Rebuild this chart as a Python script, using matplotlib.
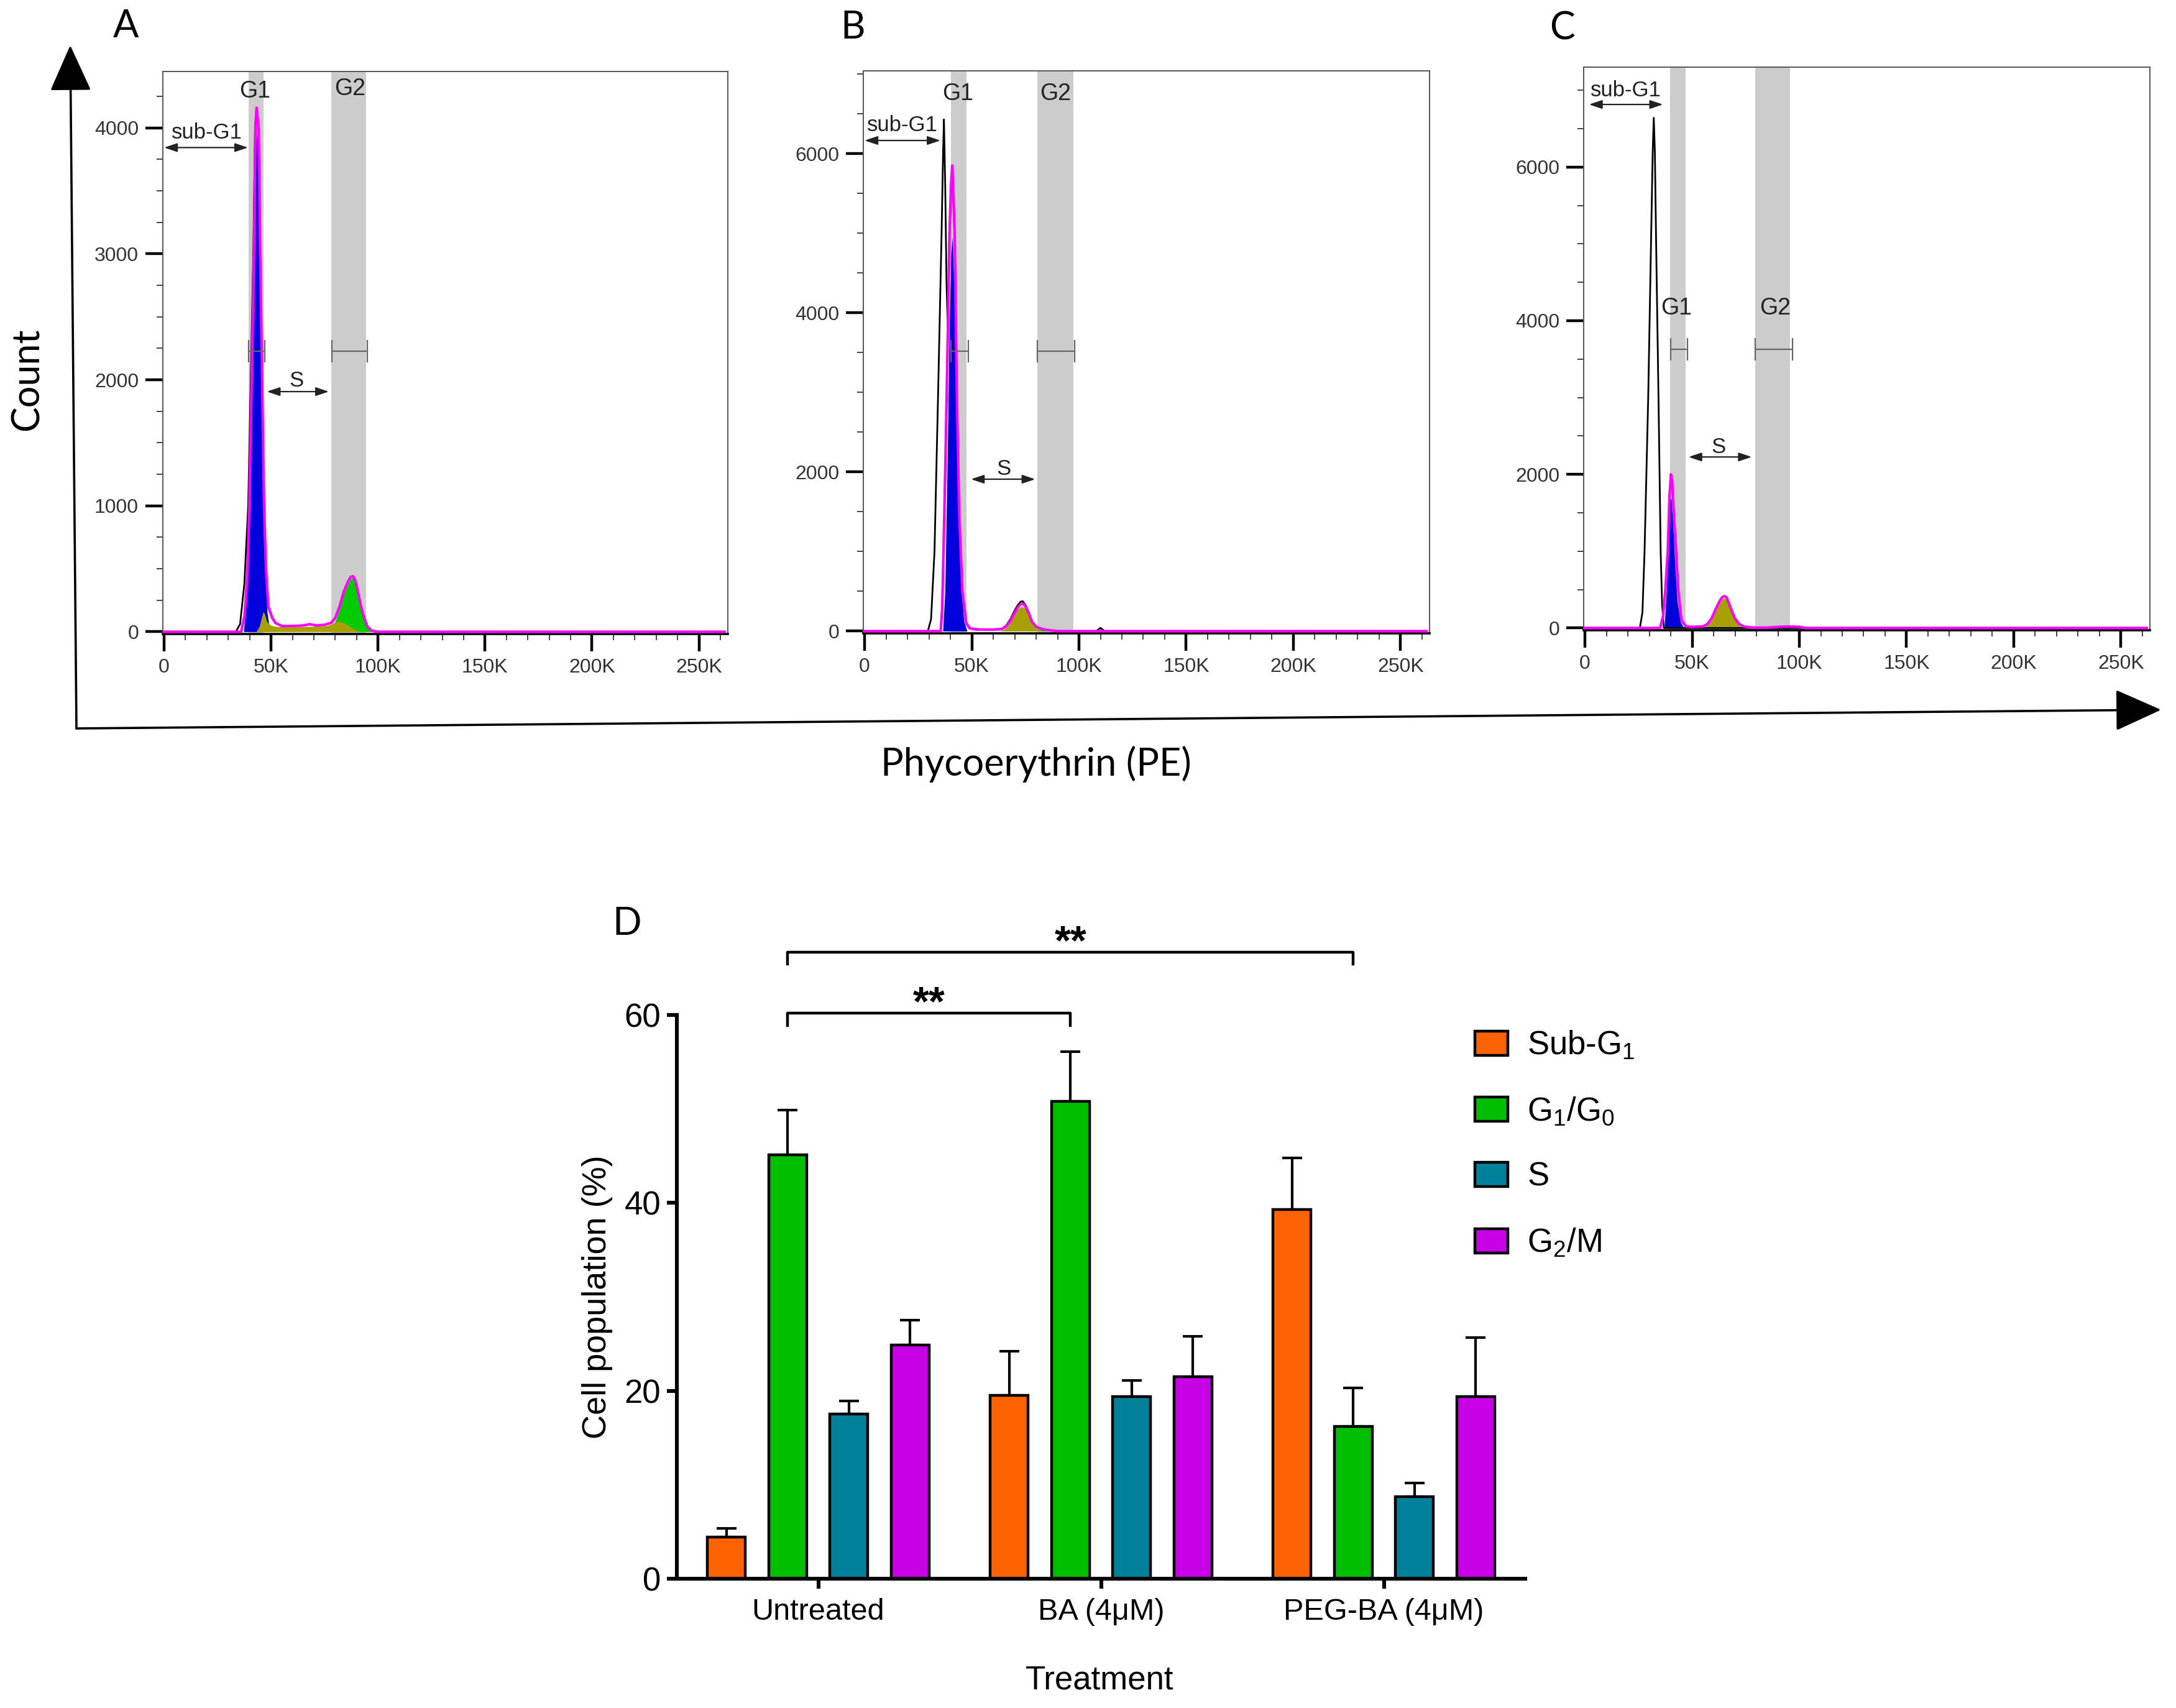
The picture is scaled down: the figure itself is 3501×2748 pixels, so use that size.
import numpy as np
import matplotlib
matplotlib.use('Agg')
import matplotlib.pyplot as plt
from matplotlib.patches import FancyArrowPatch
from matplotlib.ticker import MultipleLocator, FixedLocator

W, H, DPI = 3501, 2748, 200
plt.rcParams['font.family'] = ['Liberation Sans', 'DejaVu Sans']
plt.rcParams['mathtext.fontset'] = 'custom'
plt.rcParams['mathtext.rm'] = 'Liberation Sans'
plt.rcParams['mathtext.it'] = 'Liberation Sans:italic'
plt.rcParams['mathtext.bf'] = 'Liberation Sans:bold'

# ---------------- Panel D data ----------------
treatments = ['Untreated', 'BA (4μM)', 'PEG-BA (4μM)']
phase_labels = ['Sub-G$_1$', 'G$_1$/G$_0$', 'S', 'G$_2$/M']
phase_colors = ['#FF6200', '#00BF00', '#00809A', '#C800E6']
sub_g1 = [4.4, 19.5, 39.3]
sub_g1_sd = [0.95, 4.7, 5.5]
g1_g0 = [45.1, 50.8, 16.2]
g1_g0_sd = [4.8, 5.3, 4.1]
s_phase = [17.5, 19.4, 8.75]
s_phase_sd = [1.4, 1.7, 1.45]
g2_m = [24.9, 21.5, 19.4]
g2_m_sd = [2.6, 4.3, 6.3]
significance = [(0, 1, '**'), (0, 2, '**')]   # G1/G0 comparisons

# ---------------- Histogram data (x in K PE units, y = count) ----------------
x_tick_vals = [0, 50, 100, 150, 200, 250]
x_tick_labels = ['0', '50K', '100K', '150K', '200K', '250K']

# Panel A (untreated)
A_raw_x = [0, 33.5, 35.5, 37.5, 39.3, 40.5, 41.7, 42.5, 43.2, 44.2, 44.9, 45.8, 46.7, 47.6, 48.7, 50.5,
           52, 55, 60, 65, 68, 71, 75, 78, 80, 82, 84, 86, 87.2, 88.3, 89.5, 90.8, 92, 93.5, 95, 97, 100, 262]
A_raw_y = [0, 0, 60, 380, 1000, 2000, 3000, 4000, 4160, 4000, 3000, 2000, 1000, 500, 200, 110,
           70, 45, 45, 50, 60, 50, 55, 70, 110, 200, 320, 400, 435, 440, 400, 300, 200, 110, 40, 8, 0, 0]
A_tot_x = [0, 36, 37.6, 38.9, 39.8, 40.9, 42.0, 42.7, 43.2, 44.2, 44.9, 45.8, 46.7, 47.6, 48.7, 50.5,
           52, 55, 60, 65, 68, 71, 75, 78, 80, 82, 84, 86, 87.2, 88.3, 89.5, 90.8, 92, 93.5, 95, 97, 100, 262]
A_tot_y = [0, 0, 130, 450, 1000, 2000, 3000, 4000, 4160, 4000, 3000, 2000, 1000, 500, 200, 110,
           70, 45, 45, 50, 60, 50, 55, 70, 110, 200, 320, 400, 435, 440, 400, 300, 200, 110, 40, 8, 0, 0]
A_blue_x = [37.2, 38.6, 39.9, 41.0, 42.1, 42.8, 43.3, 44.1, 44.8, 45.7, 46.5, 47.3, 48.2, 49.5]
A_blue_y = [0, 350, 950, 1950, 2950, 3850, 3950, 3850, 2900, 1900, 950, 450, 150, 0]
A_green_x = [78, 80, 82, 84, 86, 87.2, 88.3, 89.5, 90.8, 92, 93.5, 95, 97]
A_green_y = [0, 80, 180, 300, 380, 420, 425, 390, 290, 190, 100, 30, 0]
A_olive_x = [43, 44.5, 45.5, 46.3, 47, 48, 50, 53, 60, 70, 76, 79, 81.5, 84, 86.5, 89, 92]
A_olive_y = [0, 40, 110, 160, 140, 80, 50, 40, 40, 42, 48, 65, 85, 70, 45, 15, 0]
A_g1_band, A_g2_band = [39.4, 46.5], [78.0, 94.5]
A_g1_gate, A_g2_gate, A_gate_y = [39.4, 47.0], [78.5, 95.0], 2227
A_sub_span, A_sub_y = [0, 39.2], 3843
A_s_span, A_s_y = [48.0, 77.0], 1906

# Panel B (BA)
B_raw_x = [0, 29.5, 31.0, 32.6, 34.3, 35.9, 36.6, 37.0, 37.6, 38.2, 38.8, 39.6, 40.3, 40.9, 41.4, 42.0,
           43.0, 44.1, 45.6, 47.4, 49, 55, 64, 66, 68, 70, 71.5, 72.8, 73.8, 75, 76.5, 78, 80, 83, 86,
           90, 108, 110, 112, 262]
B_raw_y = [0, 0, 150, 1000, 3000, 5000, 6000, 6430, 5600, 4400, 3800, 4900, 5550, 5800, 5450, 4950,
           2950, 1450, 480, 100, 35, 20, 28, 70, 150, 260, 330, 370, 375, 330, 240, 120, 55, 25, 12,
           0, 0, 40, 0, 0]
B_tot_x = [0, 35.5, 36.2, 36.8, 37.6, 38.3, 39.0, 39.6, 40.3, 40.9, 41.4, 42.0, 42.5, 43.0, 44.1, 45.6,
           47.4, 49, 52, 60, 64, 66, 68, 70, 71.5, 72.8, 73.8, 75, 76.5, 78, 80, 83, 86, 90, 262]
B_tot_y = [0, 0, 300, 1000, 2000, 3000, 4000, 5000, 5600, 5850, 5500, 5000, 4000, 3000, 1500, 500,
           100, 35, 20, 18, 25, 60, 130, 230, 300, 340, 345, 310, 230, 120, 55, 25, 12, 0, 0]
B_blue_x = [36.5, 37.5, 38.5, 39.5, 40.3, 40.9, 41.5, 42.2, 43.0, 44.0, 45.0, 46.3, 47.8]
B_blue_y = [0, 500, 2000, 3800, 4750, 4950, 4500, 3600, 2500, 1300, 550, 120, 0]
B_green_x = [77, 79, 81, 83, 85, 88]
B_green_y = [0, 25, 30, 25, 12, 0]
B_olive_x = [63, 65, 67, 69, 70.5, 72, 73.5, 75, 76.5, 78, 80, 83]
B_olive_y = [0, 20, 70, 160, 240, 290, 310, 280, 200, 100, 40, 0]
B_g1_band, B_g2_band = [40.4, 47.4], [80.7, 97.4]
B_g1_gate, B_g2_gate, B_gate_y = [40.4, 48.5], [80.7, 98.0], 3514
B_sub_span, B_sub_y = [0, 35.4], 6165
B_s_span, B_s_y = [49.6, 79.6], 1909

# Panel C (PEG-BA)
C_raw_x = [0, 25.6, 26.8, 27.8, 29.5, 30.8, 31.6, 32.1, 32.6, 33.2, 34.3, 35.3, 36.0, 36.8, 262]
C_raw_y = [0, 0, 200, 1000, 3000, 5000, 6200, 6640, 6200, 5000, 3000, 1000, 300, 0, 0]
C_tot_x = [0, 35.0, 36.4, 37.5, 38.6, 39.4, 40.1, 40.7, 41.4, 42.5, 43.5, 45.0, 47.2, 50, 55, 57, 59,
           61, 63, 64, 65, 66, 67, 68.5, 70, 72, 74, 77, 80, 85, 90, 95, 100, 103, 262]
C_tot_y = [0, 0, 150, 500, 1000, 1700, 2000, 1900, 1500, 1000, 500, 100, 20, 15, 20, 50, 120,
           250, 360, 400, 415, 400, 330, 220, 120, 50, 20, 8, 5, 5, 15, 20, 15, 0, 0]
C_blue_x = [37.0, 38.0, 39.0, 39.7, 40.2, 41.0, 42.0, 43.0, 44.5, 46.0]
C_blue_y = [0, 500, 1200, 1650, 1700, 1350, 800, 350, 80, 0]
C_green_x = [88, 92, 96, 100]
C_green_y = [0, 8, 8, 0]
C_olive_x = [55, 57, 59, 61, 63, 64, 65, 66, 67, 68.5, 70, 72, 74]
C_olive_y = [0, 35, 100, 230, 340, 380, 390, 370, 300, 190, 100, 30, 0]
C_g1_band, C_g2_band = [39.7, 46.8], [79.5, 95.7]
C_g1_gate, C_g2_gate, C_gate_y = [40.0, 47.8], [79.5, 96.8], 3628
C_sub_span, C_sub_y = [1.9, 36.4], 6814
C_s_span, C_s_y = [48.3, 77.8], 2226

# ---------------- figure ----------------
fig = plt.figure(figsize=(W / DPI, H / DPI), dpi=DPI, facecolor='white')


def fx(px):
    return px / W


def fy(py):
    return 1 - py / H


def rect(l, t, r, b):
    return [fx(l), fy(b), (r - l) / W, (b - t) / H]


TXT = '#222222'


def hist_panel(ax, top, ymajor, yminor, raw, tot, blue, green, olive, g1_band, g2_band,
               g1_gate, g2_gate, gate_y, g1_lab, g2_lab, sub_span, sub_y, sub_lab, s_span, s_y, s_lab):
    ax.set_xlim(-0.6, 263.5)
    ax.set_ylim(-top * 0.004, top)
    for band in (g1_band, g2_band):
        ax.axvspan(band[0], band[1], color='#CCCCCC', lw=0, zorder=0)
    ax.fill_between(blue[0], blue[1], color='#0000DD', lw=0, zorder=2)
    ax.fill_between(green[0], green[1], color='#00CC00', lw=0, zorder=2.1)
    ax.fill_between(olive[0], olive[1], color='#A8A000', lw=0, zorder=2.2)
    ax.plot(raw[0], raw[1], color='black', lw=1.0, zorder=3, clip_on=False)
    ax.plot(tot[0], tot[1], color='#FF00FF', lw=1.5, zorder=3.2, solid_joinstyle='round', clip_on=False)
    for gate in (g1_gate, g2_gate):
        ax.plot(gate, [gate_y, gate_y], color='#666666', lw=0.8, marker='|', ms=13, mew=0.8, zorder=4)
    ax.text(g1_lab[0], g1_lab[1], 'G1', fontsize=13.5, color=TXT, ha='center', va='center', zorder=5)
    ax.text(g2_lab[0], g2_lab[1], 'G2', fontsize=13.5, color=TXT, ha='center', va='center', zorder=5)
    arrow_kw = dict(arrowstyle='<|-|>,head_length=0.45,head_width=0.15', color=TXT, lw=0.8,
                    mutation_scale=14, shrinkA=0, shrinkB=0)
    ax.annotate('', xy=(sub_span[1], sub_y), xytext=(sub_span[0], sub_y), arrowprops=arrow_kw, zorder=5)
    ax.text(sub_lab[0], sub_lab[1], 'sub-G1', fontsize=12.5, color=TXT, ha='center', va='center', zorder=5)
    ax.annotate('', xy=(s_span[1], s_y), xytext=(s_span[0], s_y), arrowprops=arrow_kw, zorder=5)
    ax.text(s_lab[0], s_lab[1], 'S', fontsize=12.5, color=TXT, ha='center', va='center', zorder=5)

    ax.set_xticks(x_tick_vals)
    ax.set_xticklabels(x_tick_labels)
    ax.xaxis.set_minor_locator(MultipleLocator(10))
    ax.yaxis.set_major_locator(FixedLocator(ymajor))
    ax.yaxis.set_minor_locator(MultipleLocator(yminor))
    ax.tick_params(which='major', length=10, width=1.6, color='black', labelsize=11.5,
                   labelcolor='#333333', pad=4)
    ax.tick_params(which='minor', length=3.5, width=0.7, color='#444444')
    for s in ('top', 'right', 'left'):
        ax.spines[s].set_color('#555555')
        ax.spines[s].set_linewidth(0.7)
    ax.spines['bottom'].set_color('black')
    ax.spines['bottom'].set_linewidth(1.3)
    ax.set_facecolor('none')


axA = fig.add_axes(rect(262, 115, 1171, 1020))
axB = fig.add_axes(rect(1389, 114, 2300, 1019))
axC = fig.add_axes(rect(2548, 108, 3459, 1014))

hist_panel(axA, 4447, [0, 1000, 2000, 3000, 4000], 250,
           (A_raw_x, A_raw_y), (A_tot_x, A_tot_y), (A_blue_x, A_blue_y), (A_green_x, A_green_y),
           (A_olive_x, A_olive_y), A_g1_band, A_g2_band, A_g1_gate, A_g2_gate, A_gate_y,
           (42.3, 4290), (87.0, 4310), A_sub_span, A_sub_y, (20.0, 3960), A_s_span, A_s_y, (62.0, 1995))
hist_panel(axB, 7040, [0, 2000, 4000, 6000], 500,
           (B_raw_x, B_raw_y), (B_tot_x, B_tot_y), (B_blue_x, B_blue_y), (B_green_x, B_green_y),
           (B_olive_x, B_olive_y), B_g1_band, B_g2_band, B_g1_gate, B_g2_gate, B_gate_y,
           (43.5, 6750), (89.0, 6750), B_sub_span, B_sub_y, (17.6, 6354), B_s_span, B_s_y, (64.8, 2040))
hist_panel(axC, 7300, [0, 2000, 4000, 6000], 500,
           (C_raw_x, C_raw_y), (C_tot_x, C_tot_y), (C_blue_x, C_blue_y), (C_green_x, C_green_y),
           (C_olive_x, C_olive_y), C_g1_band, C_g2_band, C_g1_gate, C_g2_gate, C_gate_y,
           (42.7, 4160), (88.6, 4160), C_sub_span, C_sub_y, (19.2, 6993), C_s_span, C_s_y, (62.3, 2350))

# big axis arrows and labels
big_kw = dict(arrowstyle='-|>,head_length=0.4,head_width=0.18', mutation_scale=59, color='black',
              lw=1.3, shrinkA=0, shrinkB=0, transform=fig.transFigure)
fig.add_artist(FancyArrowPatch((fx(123), fy(1172)), (fx(113), fy(73)), **big_kw))
fig.add_artist(FancyArrowPatch((fx(123), fy(1172)), (fx(3477), fy(1142)), **big_kw))
fig.text(fx(44), fy(610), 'Count', rotation=90, ha='center', va='center', fontsize=22, family='Lato')
fig.text(fx(1667), fy(1229), 'Phycoerythrin (PE)', ha='center', va='center', fontsize=22, family='Lato')
for lab, px, py in (('A', 203, 43), ('B', 1372, 44), ('C', 2513, 46), ('D', 1009, 1487)):
    fig.text(fx(px), fy(py), lab, ha='center', va='center', fontsize=22, family='Lato')

# ---------------- Panel D ----------------
axD = fig.add_axes(rect(1089, 1633, 2454, 2540))
xg = np.arange(len(treatments))
offsets = (np.arange(4) - 1.5) * 0.2165
width = 0.134
series = [(sub_g1, sub_g1_sd), (g1_g0, g1_g0_sd), (s_phase, s_phase_sd), (g2_m, g2_m_sd)]
for i, ((vals, sds), col, lab) in enumerate(zip(series, phase_colors, phase_labels)):
    axD.bar(xg + offsets[i], vals, width, color=col, edgecolor='black', linewidth=1.6, label=lab,
            zorder=2, yerr=[np.zeros(len(vals)), sds],
            error_kw=dict(ecolor='black', elinewidth=1.5, capsize=5.6, capthick=1.5, zorder=1))

axD.set_xlim(-0.5, 2.5)
axD.set_ylim(0, 60)
axD.set_yticks([0, 20, 40, 60])
axD.set_xticks(xg)
axD.set_xticklabels(treatments)
axD.spines['top'].set_visible(False)
axD.spines['right'].set_visible(False)
for s in ('left', 'bottom'):
    axD.spines[s].set_linewidth(2.2)
axD.tick_params(axis='y', length=5.8, width=2.2, pad=3.6, labelsize=19)
axD.tick_params(axis='x', length=5.8, width=2.2, pad=5.4, labelsize=17.5)
axD.set_ylabel('Cell population (%)', fontsize=19.5, va='center')
axD.yaxis.set_label_coords(-0.094, 0.5)
axD.set_xlabel('Treatment', fontsize=19, va='center')
axD.xaxis.set_label_coords(0.498, -0.18)

for (a, b, txt), yb in zip(significance, [60.2, 66.7]):
    xa = xg[a] + offsets[1]
    xb = xg[b] + offsets[1]
    axD.plot([xa, xa, xb, xb], [yb - 1.3, yb, yb, yb - 1.3], color='black', lw=1.6, clip_on=False)
    axD.text((xa + xb) / 2, yb - 0.2, txt, ha='center', va='baseline', fontsize=24,
             fontweight='bold', clip_on=False)

axD.legend(loc='upper left', bbox_to_anchor=(fx(2373), fy(1656)), bbox_transform=fig.transFigure,
           frameon=False, fontsize=19, handlelength=1.0, handleheight=0.76, handletextpad=0.6,
           labelspacing=1.05, borderpad=0, borderaxespad=0)

fig.savefig('out.png', dpi=DPI, facecolor='white')
